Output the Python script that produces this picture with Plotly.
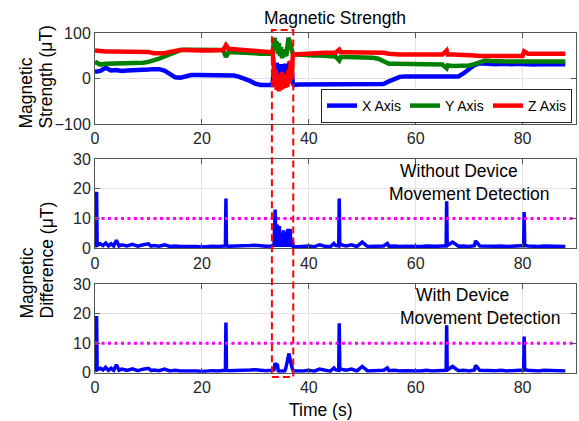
import plotly.graph_objects as go

# ---------------- data ----------------
t_top = [0, 1, 2, 3, 4, 5, 6, 7, 8, 9,
         10, 11, 12, 13, 14, 15, 16, 17, 18, 19,
         20, 21, 22, 23, 24, 24.5, 25, 26, 27, 28,
         29, 30, 31, 32, 33,
         33.2, 33.4, 33.6, 33.8, 34.0, 34.2, 34.4, 34.6, 34.8, 35.0,
         35.2, 35.4, 35.6, 35.8, 36.0, 36.2, 36.4, 36.6, 36.8, 37.0,
         37.2, 38, 39, 40, 41, 42, 43, 44, 45, 45.7,
         46, 47, 48, 49, 50, 51, 52, 53, 54, 55,
         56, 57, 58, 59, 60, 61, 62, 63, 64, 65,
         65.8, 66, 67, 68, 69, 70, 71, 72, 73, 74,
         75, 76, 77, 78, 79, 80, 80.3, 81, 82, 83,
         84, 85, 86, 87, 88]

x_axis = [15, 17, 24, 18, 19, 17, 18, 18, 19, 19,
          20, 21, 21, 18, 10, 3, 2, 6, 8, 8,
          8, 9, 9, 9, 9, 9, 9, 7, 4, 0,
          -5, -11, -14, -14, -14,
          -14, 10, 30, 0, 35, 5, 30, -2, 32, 2,
          28, 0, 33, 5, 30, 0, 38, 5, 25, -10,
          -14, -13, -13, -14, -13, -13, -14, -13, -13, -12,
          -13, -13, -13, -14, -13, -13, -13, -13, -12, -6,
          0, 4, 5, 5, 5, 5, 6, 5, 5, 5,
          6, 5, 5, 5, 12, 22, 30, 34, 33, 32,
          32, 33, 32, 32, 33, 32, 34, 32, 31, 32,
          32, 32, 31, 32, 32]

y_axis = [37, 31, 33, 33, 34, 34, 33, 34, 34, 35,
          37, 40, 44, 49, 54, 60, 63, 64, 64, 64,
          63, 64, 63, 64, 63, 48, 58, 58, 58, 57,
          57, 56, 55, 54, 54,
          55, 75, 90, 70, 82, 55, 78, 50, 70, 45,
          65, 48, 62, 50, 75, 90, 84, 70, 60, 55,
          54, 53, 53, 52, 51, 51, 50, 50, 49, 40,
          48, 48, 48, 48, 47, 47, 46, 44, 38, 33,
          33, 33, 33, 32, 32, 32, 32, 31, 31, 31,
          23, 29, 28, 28, 28, 29, 32, 37, 40, 39,
          38, 38, 38, 38, 38, 38, 40, 38, 38, 38,
          38, 38, 38, 38, 38]

z_axis = [62, 60, 60, 60, 60, 60, 60, 60, 60, 60,
          59, 56, 55, 56, 59, 62, 63, 63, 62, 62,
          62, 62, 63, 63, 63, 74, 66, 65, 64, 63,
          63, 62, 61, 60, 58,
          58, 40, -10, 20, -25, 10, -28, 5, -25, 15,
          -22, 0, -20, 10, -18, 20, -10, 40, 0, 50,
          52, 54, 55, 56, 56, 56, 57, 57, 57, 64,
          58, 58, 58, 58, 58, 58, 58, 58, 57, 55,
          53, 53, 53, 53, 53, 53, 53, 53, 53, 53,
          62, 53, 53, 53, 52, 52, 51, 50, 50, 50,
          50, 50, 50, 50, 50, 50, 60, 55, 55, 55,
          55, 55, 55, 55, 55]

t_diff = [0, 0.2, 0.3, 0.4, 1, 1.5, 2, 2.5, 3, 3.5,
          4, 4.5, 5, 6, 7, 8, 9, 10, 10.5, 11,
          12, 13, 14, 15, 16, 17, 18, 19, 20, 21,
          22, 23, 24, 24.4, 24.5, 24.6, 25, 26, 27, 28,
          29, 30, 31, 32, 33, 33.5, 33.7, 33.9, 34.1, 34.3,
          34.5, 34.7, 34.9, 35.1, 35.3, 35.5, 35.7, 35.9, 36.1, 36.3,
          36.5, 36.7, 36.9, 37.1, 38, 39, 40, 41, 42, 43,
          44, 44.7, 45, 45.6, 45.7, 45.8, 46, 47, 48, 49,
          50, 51, 52, 53, 54, 54.7, 55, 56, 57, 58,
          59, 60, 61, 62, 63, 64, 65, 65.7, 65.8, 65.9,
          66.9, 68, 69, 70, 71, 71.2, 72, 73, 74, 75,
          76, 77, 78, 79, 80, 80.2, 80.3, 80.4, 81, 82,
          83, 84, 85, 86, 87, 88]

diff_without = [0.5, 1.0, 19.0, 1.0, 1.5, 0.9, 1.8, 0.8, 1.5, 0.8,
                2.7, 0.8, 1.2, 0.8, 1.3, 0.7, 1.2, 1.5, 0.7, 0.9,
                0.7, 1.2, 0.6, 0.8, 0.6, 0.6, 0.8, 0.6, 0.4, 0.6,
                0.7, 0.6, 0.7, 0.8, 16.7, 0.8, 0.7, 0.7, 0.7, 0.8,
                0.9, 1.0, 0.8, 0.7, 0.8, 1.0, 13.0, 0.5, 8.0, 0.5,
                7.5, 0.5, 5.0, 0.5, 6.0, 0.5, 5.5, 0.5, 6.5, 0.5,
                6.5, 0.5, 3.0, 0.6, 0.5, 0.6, 0.8, 0.5, 1.2, 0.7,
                0.5, 1.6, 1.0, 0.8, 16.7, 1.8, 1.2, 0.8, 1.2, 0.6,
                2.1, 0.6, 0.7, 0.6, 0.8, 1.6, 0.7, 0.8, 0.6, 0.7,
                0.6, 0.7, 0.6, 0.8, 0.6, 0.7, 0.8, 0.8, 15.8, 0.9,
                2.1, 0.7, 0.8, 0.6, 0.9, 2.5, 0.8, 0.7, 0.6, 0.7,
                0.8, 0.6, 0.7, 0.8, 0.8, 0.9, 12.2, 1.0, 0.8, 0.7,
                0.6, 0.8, 0.7, 0.6, 0.7, 0.6]

diff_with = [0.5, 1.0, 19.2, 1.0, 1.5, 0.9, 1.8, 0.8, 1.5, 0.8,
             2.7, 0.8, 1.2, 0.8, 1.3, 0.7, 1.2, 1.5, 0.7, 0.9,
             0.7, 1.2, 0.6, 0.8, 0.6, 0.6, 0.8, 0.6, 0.4, 0.6,
             0.7, 0.6, 0.7, 0.8, 17.0, 0.8, 0.7, 0.7, 0.7, 0.8,
             0.9, 1.0, 0.8, 0.7, 0.8, 1.0, 3.3, 2.5, 3.0, 0.6,
             0.5, 0.6, 0.5, 0.6, 0.5, 0.6, 1.5, 3.0, 4.0, 6.5,
             4.5, 2.5, 1.5, 0.6, 0.5, 0.6, 0.8, 0.5, 1.2, 0.7,
             0.5, 1.6, 1.0, 0.8, 16.7, 1.8, 1.2, 0.8, 1.2, 0.6,
             2.1, 0.6, 0.7, 0.6, 0.8, 1.6, 0.7, 0.8, 0.6, 0.7,
             0.6, 0.7, 0.6, 0.8, 0.6, 0.7, 0.8, 0.8, 16.0, 0.9,
             2.1, 0.7, 0.8, 0.6, 0.9, 2.5, 0.8, 0.7, 0.6, 0.7,
             0.8, 0.6, 0.7, 0.8, 0.8, 0.9, 12.2, 1.0, 0.8, 0.7,
             0.6, 0.8, 0.7, 0.6, 0.7, 0.6]

threshold_t = [0, 90]
threshold_v = [10, 10]
box_t = [33.1, 37.1]   # highlighted time window (s)

x_ticks = [0, 20, 40, 60, 80]
top_ticks = [-100, 0, 100]
diff_ticks = [0, 10, 20, 30]

# ---------------- layout helpers ----------------
W, H = 579, 421
L, R = 95, 3
def px(x):
    return (x - L) / (W - L - R)
def py(y):
    return 1 - y / H

FONT = "Liberation Sans, Arial, Helvetica, sans-serif"
TXT = "#262626"

fig = go.Figure()
fig.add_trace(go.Scatter(x=t_top, y=x_axis, name="X Axis", mode="lines",
                         line=dict(color="#0000ff", width=4.5), xaxis="x", yaxis="y"))
fig.add_trace(go.Scatter(x=t_top, y=y_axis, name="Y Axis", mode="lines",
                         line=dict(color="#008000", width=4.5), xaxis="x", yaxis="y"))
fig.add_trace(go.Scatter(x=t_top, y=z_axis, name="Z Axis", mode="lines",
                         line=dict(color="#ff0000", width=4.5), xaxis="x", yaxis="y"))

for d, xa, ya in [(diff_without, "x2", "y2"), (diff_with, "x3", "y3")]:
    fig.add_trace(go.Scatter(x=t_diff, y=d, mode="lines", showlegend=False,
                             line=dict(color="#0000ff", width=3.5), xaxis=xa, yaxis=ya))
    fig.add_trace(go.Scatter(x=threshold_t, y=threshold_v, mode="lines", showlegend=False,
                             line=dict(color="#ff00ff", width=3, dash="3px,3.5px"),
                             xaxis=xa, yaxis=ya))

axis_common = dict(showgrid=True, gridcolor="#e3e3e3", gridwidth=1,
                   showline=True, linecolor="#555555", linewidth=1, mirror="ticks",
                   ticks="inside", ticklen=5, tickcolor="#555555", zeroline=False,
                   tickfont=dict(family=FONT, size=16, color=TXT), fixedrange=True)

xa = dict(range=[0, 90], tickvals=x_ticks, **axis_common)
fig.update_layout(
    width=W, height=H,
    margin=dict(l=L, r=R, t=0, b=0, autoexpand=False),
    paper_bgcolor="white", plot_bgcolor="white",
    font=dict(family=FONT, color=TXT),
    xaxis=dict(anchor="y", domain=[0, 1], **xa),
    xaxis2=dict(anchor="y2", domain=[0, 1], **xa),
    xaxis3=dict(anchor="y3", domain=[0, 1], **xa),
    yaxis=dict(anchor="x", domain=[py(124), py(33.3)], range=[-100, 100],
               tickvals=top_ticks, **axis_common),
    yaxis2=dict(anchor="x2", domain=[py(248.3), py(159)], range=[0, 30],
                tickvals=diff_ticks, **axis_common),
    yaxis3=dict(anchor="x3", domain=[py(372.7), py(284)], range=[0, 30],
                tickvals=diff_ticks, **axis_common),
    showlegend=True,
    legend=dict(orientation="h", x=px(572), y=py(89), xanchor="right", yanchor="top",
                bgcolor="white", bordercolor="#262626", borderwidth=1,
                font=dict(family=FONT, size=14, color="black"),
                itemwidth=30, entrywidth=38, entrywidthmode="pixels"),
)

fig.add_shape(type="rect", xref="x", yref="paper", x0=box_t[0], x1=box_t[1],
              y0=py(377), y1=py(30), line=dict(color="#ff0000", width=2, dash="7px,4px"),
              layer="above")

ann = []
def text(x, y, s, size=17.5, angle=0, xanchor="center", yanchor="middle"):
    ann.append(dict(x=px(x), y=py(y), xref="paper", yref="paper", text=s, showarrow=False,
                    textangle=angle, xanchor=xanchor, yanchor=yanchor,
                    font=dict(family=FONT, size=size, color="black")))

text(335, 18, "Magnetic Strength")
text(26, 131, "Magnetic", angle=-90, yanchor="bottom")
text(46, 131, "Strength (μT)", angle=-90, yanchor="bottom")
text(26, 321, "Magnetic", angle=-90, yanchor="bottom")
text(46, 321, "Difference (μT)", angle=-90, yanchor="bottom")
text(321, 410, "Time (s)")
text(459, 171, "Without Device")
text(469, 194, "Movement Detection")
text(462, 295, "With Device")
text(480, 318, "Movement Detection")
fig.update_layout(annotations=ann)

fig.write_html("out.html", config={"displayModeBar": False},
               post_script="document.body.style.margin='0';document.body.style.padding='0';")
